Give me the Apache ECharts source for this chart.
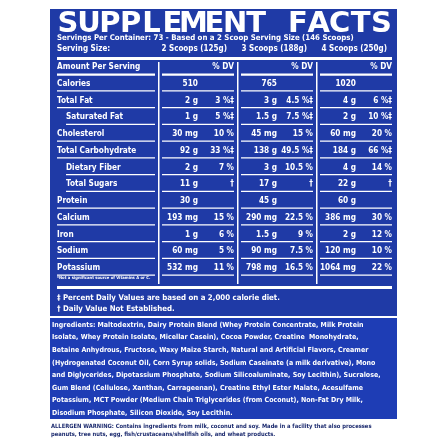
<!DOCTYPE html>
<html><head><meta charset="utf-8">
<script src="https://cdn.jsdelivr.net/npm/echarts@6/dist/echarts.min.js"></script>
<style>html,body{margin:0;padding:0;background:#fff}#main{width:448px;height:448px}</style>
</head><body><div id="main"></div>
<script>
var titleText = 'SUPPLEMENT FACTS';
var servingLine = 'Servings Per Container: 73 - Based on a 2 Scoop Serving Size (146 Scoops)';
var servingSizes = ['2 Scoops (125g)', '3 Scoops (188g)', '4 Scoops (250g)'];
var rowLabels = ['Amount Per Serving', 'Calories', 'Total Fat', 'Saturated Fat', 'Cholesterol', 'Total Carbohydrate',
    'Dietary Fiber', 'Total Sugars', 'Protein', 'Calcium', 'Iron', 'Sodium', 'Potassium'];
var rowIndent = [0, 0, 0, 1, 0, 0, 1, 1, 0, 0, 0, 0, 0];
var amount2 = ['', '510', '2 g', '1 g', '30 mg', '92 g', '2 g', '11 g', '30 g', '193 mg', '1 g', '60 mg', '532 mg'];
var dv2 = ['% DV', '', '3 %‡', '5 %‡', '10 %', '33 %‡', '7 %', '†', '', '15 %', '6 %', '5 %', '11 %'];
var amount3 = ['', '765', '3 g', '1.5 g', '45 mg', '138 g', '3 g', '17 g', '45 g', '290 mg', '1.5 g', '90 mg', '798 mg'];
var dv3 = ['% DV', '', '4.5 %‡', '7.5 %‡', '15 %', '49.5 %‡', '10.5 %', '†', '', '22.5 %', '9 %', '7.5 %', '16.5 %'];
var amount4 = ['', '1020', '4 g', '2 g', '60 mg', '184 g', '4 g', '22 g', '60 g', '386 mg', '2 g', '120 mg', '1064 mg'];
var dv4 = ['% DV', '', '6 %‡', '10 %‡', '20 %', '66 %‡', '14 %', '†', '', '30 %', '12 %', '10 %', '22 %'];
var footnotes = ['‡ Percent Daily Values are based on a 2,000 calorie diet.', '† Daily Value Not Established.'];
var ingredientLines = [
    'Ingredients: Maltodextrin, Dairy Protein Blend (Whey Protein Concentrate, Milk Protein',
    'Isolate, Whey Protein Isolate, Micellar Casein), Cocoa Powder, Creatine  Monohydrate,',
    'Betaine Anhydrous, Fructose, Waxy Maize Starch, Natural and Artificial Flavors, Creamer',
    '(Hydrogenated Coconut Oil, Corn Syrup solids, Sodium Caseinate (a milk derivative), Mono',
    'and Diglycerides, Dipotassium Phosphate, Sodium Silicoaluminate, Soy Lecithin), Sucralose,',
    'Gum Blend (Cellulose, Xanthan, Carrageenan), Creatine Ethyl Ester Malate, Acesulfame',
    'Potassium, MCT Powder (Medium Chain Triglycerides (from Coconut), Non-Fat Dry Milk,',
    'Disodium Phosphate, Silicon Dioxide, Soy Lecithin.'
];
var allergenLines = [
    'ALLERGEN WARNING: Contains ingredients from milk, coconut and soy. Made in a facility that also processes',
    'peanuts, tree nuts, egg, fish/crustaceans/shellfish oils, and wheat products.'
];

var FONT = '"DejaVu Sans Condensed", "Liberation Sans", sans-serif';
var BLUE = '#1f3aa6';
var myChart = echarts.init(document.getElementById('main'));

function txt(x, y, s, size, align, color, family) {
    return {type: 'text', style: {x: x, y: y, text: s, fill: color || '#fff', fontSize: size, fontWeight: 'bold',
        fontFamily: family || FONT, align: align || 'left', verticalAlign: 'middle'}};
}
function rect(x, y, w, h, color) {
    return {type: 'rect', shape: {x: x, y: y, width: w, height: h}, style: {fill: color}};
}

var rowData = rowLabels.map(function (l, i) { return [0, i]; });
var colLeft = [162, 241, 320];
var amounts = [amount2, amount3, amount4];
var dvs = [dv2, dv3, dv4];

var option = {
    animation: false,
    grid: {left: 0, right: 0, top: 0, bottom: 0},
    xAxis: {type: 'value', min: 0, max: 448, show: false},
    yAxis: {type: 'value', min: 0, max: 448, inverse: true, show: false},
    series: [
        {   // panels and header
            type: 'custom', silent: true, data: [[0, 0]],
            renderItem: function (params, api) {
                var c = [];
                var p0 = api.coord([50, 9]), p1 = api.coord([397, 316]);
                c.push(rect(p0[0], p0[1], p1[0] - p0[0], p1[1] - p0[1], BLUE));
                var q0 = api.coord([50, 318]), q1 = api.coord([397, 419]);
                c.push(rect(q0[0], q0[1], q1[0] - q0[0], q1[1] - q0[1], '#1e3db5'));
                for (var i = 0; i < titleText.length; i++) {
                    var t = api.coord([68 + i * 20.9, 24]);
                    c.push(txt(t[0], t[1], titleText[i], 29, 'center', '#fff', '"DejaVu Sans"'));
                }
                var s = api.coord([57, 38]);
                c.push(txt(s[0], s[1], servingLine, 7.8));
                var s2 = api.coord([57, 49]);
                c.push(txt(s2[0], s2[1], 'Serving Size:', 8));
                var sx = [227, 307, 387];
                servingSizes.forEach(function (v, k) {
                    var p = api.coord([sx[k], 49]);
                    c.push(txt(p[0], p[1], v, 8, 'right'));
                });
                var w = api.coord([57, 57]);
                c.push(rect(w[0], w[1], 335, 3, '#fff'));
                [158, 237, 316].forEach(function (x) {
                    var v = api.coord([x, 62]);
                    c.push(rect(v[0], v[1], 1.5, 222, '#fff'));
                });
                var w2 = api.coord([57, 286]);
                c.push(rect(w2[0], w2[1], 335, 3, '#fff'));
                var fn = api.coord([57, 278]);
                c.push(txt(fn[0], fn[1], '*Not a significant source of Vitamins A or C.', 4.2));
                footnotes.forEach(function (f, k) {
                    var p = api.coord([57, 298 + k * 11]);
                    c.push(txt(p[0], p[1], f, 7.8));
                });
                ingredientLines.forEach(function (l, k) {
                    var p = api.coord([52, 325 + k * 12.6]);
                    c.push(txt(p[0], p[1], l, 7.0));
                });
                allergenLines.forEach(function (l, k) {
                    var p = api.coord([51, 426 + k * 8.5]);
                    c.push(txt(p[0], p[1], l, 5.8, 'left', '#1b2a6e'));
                });
                return {type: 'group', children: c};
            }
        },
        {   // nutrient rows
            type: 'custom', silent: true, data: rowData,
            renderItem: function (params, api) {
                var i = api.value(1);
                var y = 67 + i * 16.75;
                var c = [];
                var lx = rowIndent[i] ? 66 : 57;
                var p = api.coord([lx, y]);
                c.push(txt(p[0], p[1], rowLabels[i], 8.2));
                var u = api.coord([lx, y + 6.5]);
                var lineH = i === 0 ? 2.2 : 1.3;
                var ue = api.coord([155, y + 6.5]);
                c.push(rect(u[0], u[1], ue[0] - u[0], lineH, '#fff'));
                for (var k = 0; k < 3; k++) {
                    var x0 = colLeft[k];
                    var a = api.coord([x0 + 36, y]);
                    if (amounts[k][i]) c.push(txt(a[0], a[1], amounts[k][i], 8.2, 'right'));
                    var d = api.coord([x0 + 72, y]);
                    if (dvs[k][i]) c.push(txt(d[0], d[1], dvs[k][i], 8.2, 'right'));
                    var ul = api.coord([x0, y + 6.5]);
                    c.push(rect(ul[0], ul[1], 72, lineH, '#fff'));
                }
                return {type: 'group', children: c};
            }
        }
    ]
};
myChart.setOption(option);
</script></body></html>
